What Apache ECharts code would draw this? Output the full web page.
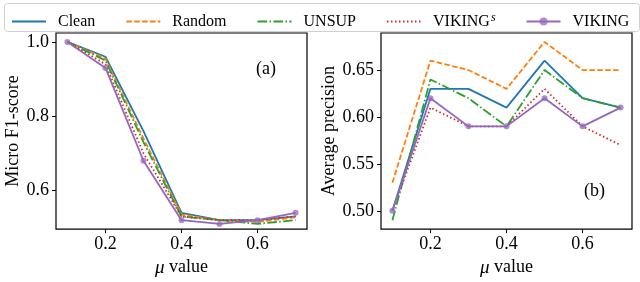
<!DOCTYPE html>
<html>
<head>
<meta charset="utf-8">
<script src="https://cdn.jsdelivr.net/npm/echarts@6/dist/echarts.min.js"></script>
<style>html,body{margin:0;padding:0;background:#fff;}#c{width:640px;height:282px;}</style>
</head>
<body>
<div id="c"></div>
<script>
const muValues = [0.1, 0.2, 0.3, 0.4, 0.5, 0.6, 0.7];
const seriesNames = ['Clean', 'Random', 'UNSUP', 'VIKINGs', 'VIKING'];

// (a) Micro F1-score
const f1Clean   = [1.0, 0.96, 0.76, 0.54, 0.52, 0.52, 0.53];
const f1Random  = [1.0, 0.955, 0.74, 0.535, 0.52, 0.515, 0.528];
const f1Unsup   = [1.0, 0.95, 0.73, 0.53, 0.52, 0.51, 0.52];
const f1VikingS = [1.0, 0.94, 0.70, 0.53, 0.52, 0.52, 0.53];
const f1Viking  = [1.0, 0.93, 0.68, 0.52, 0.51, 0.52, 0.54];

// (b) Average precision
const apClean   = [0.50, 0.63, 0.63, 0.61, 0.66, 0.62, 0.61];
const apRandom  = [0.53, 0.66, 0.65, 0.63, 0.68, 0.65, 0.65];
const apUnsup   = [0.49, 0.64, 0.62, 0.59, 0.65, 0.62, 0.61];
const apVikingS = [0.50, 0.61, 0.59, 0.59, 0.63, 0.59, 0.57];
const apViking  = [0.50, 0.62, 0.59, 0.59, 0.62, 0.59, 0.61];

const xTicks = [0.2, 0.4, 0.6];
const f1Ticks = [0.6, 0.8, 1.0];
const apTicks = [0.50, 0.55, 0.60, 0.65];

const FONT = '"Liberation Serif", "Times New Roman", serif';
const colors = ['#1f77b4', '#ff7f0e', '#2ca02c', '#d62728', '#9467bd'];
const dashes = ['solid', [5.5, 2.4], [9.6, 2.4, 1.5, 2.4], [1.5, 2.5], 'solid'];

function pairs(vals) { return muValues.map((m, i) => [m, vals[i]]); }

const chart = echarts.init(document.getElementById('c'), null, {renderer: 'canvas'});

function xAxisDef(gi) {
  return {
    type: 'value', gridIndex: gi, min: 0.07, max: 0.73,
    name: '{i|\u03BC} value', nameLocation: 'middle', nameGap: 20,
    nameTextStyle: {fontFamily: FONT, fontSize: 18, color: '#000',
      rich: {i: {fontFamily: FONT, fontStyle: 'italic', fontSize: 19, color: '#000'}}},
    splitLine: {show: false},
    axisLine: {show: false},
    axisTick: {show: true, inside: false, length: 4, lineStyle: {color: '#000'}, customValues: xTicks},
    axisLabel: {fontFamily: FONT, fontSize: 18, color: '#000', margin: 6,
      customValues: xTicks, formatter: v => v.toFixed(1)}
  };
}

function yAxisDef(gi, min, max, ticks, digits, name, gap) {
  return {
    type: 'value', gridIndex: gi, min: min, max: max,
    name: name, nameLocation: 'middle', nameGap: gap,
    nameTextStyle: {fontFamily: FONT, fontSize: 18, color: '#000'},
    splitLine: {show: false},
    axisLine: {show: false},
    axisTick: {show: true, inside: false, length: 4, lineStyle: {color: '#000'}, customValues: ticks},
    axisLabel: {fontFamily: FONT, fontSize: 18, color: '#000', margin: 7,
      customValues: ticks, formatter: v => v.toFixed(digits)}
  };
}

const f1Data = [f1Clean, f1Random, f1Unsup, f1VikingS, f1Viking];
const apData = [apClean, apRandom, apUnsup, apVikingS, apViking];

const series = [];
[f1Data, apData].forEach((set, gi) => {
  set.forEach((vals, k) => {
    const isViking = k === 4;
    series.push({
      name: seriesNames[k], type: 'line', xAxisIndex: gi, yAxisIndex: gi,
      data: pairs(vals),
      showSymbol: isViking, symbol: isViking ? 'circle' : 'none', symbolSize: 6,
      itemStyle: {color: isViking ? 'rgba(148,103,189,0.75)' : colors[k]},
      lineStyle: {color: colors[k], width: 1.8, type: dashes[k]},
      emphasis: {disabled: true}, animation: false, z: 2 + k
    });
  });
});

chart.setOption({
  animation: false,
  backgroundColor: '#fff',
  legend: {
    top: 7, left: 6, itemWidth: 34, itemHeight: 10, itemGap: 30,
    data: seriesNames.map((n, k) => k === 4 ? {name: n} : {name: n, itemStyle: {opacity: 0}}),
    formatter: n => n === 'VIKINGs' ? 'VIKING{s|s}' : n,
    textStyle: {fontFamily: FONT, fontSize: 16, color: '#000', padding: [0, 0, 0, 7],
      rich: {s: {fontFamily: FONT, fontSize: 12, fontStyle: 'italic', color: '#000', padding: [0, 0, 7, 1]}}},
    selectedMode: false
  },
  graphic: [
    {type: 'rect', left: 2, top: 1, shape: {width: 635, height: 28, r: 3},
     style: {fill: 'none', stroke: '#d0d0d0', lineWidth: 1}, z: -1},
    {type: 'text', left: 256, top: 60, style: {text: '(a)', font: '18px ' + FONT, fill: '#000'}},
    {type: 'text', left: 584, top: 182, style: {text: '(b)', font: '18px ' + FONT, fill: '#000'}}
  ],
  grid: [
    {left: 56, top: 33, width: 251, height: 206, show: true, borderColor: '#000', borderWidth: 1.2, containLabel: false},
    {left: 381, top: 33, width: 251, height: 206, show: true, borderColor: '#000', borderWidth: 1.2, containLabel: false}
  ],
  xAxis: [xAxisDef(0), xAxisDef(1)],
  yAxis: [
    yAxisDef(0, 0.496, 1.024, f1Ticks, 1, 'Micro F1-score', 32),
    yAxisDef(1, 0.4805, 0.6895, apTicks, 2, 'Average precision', 42)
  ],
  series: series
});
</script>
</body>
</html>
